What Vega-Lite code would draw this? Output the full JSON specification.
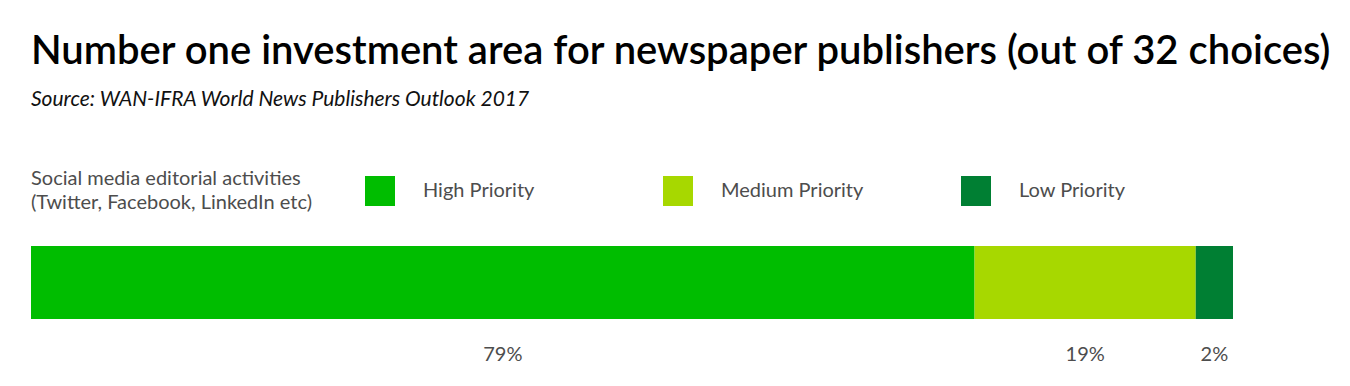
{
  "$schema": "https://vega.github.io/schema/vega-lite/v6.json",
  "autosize": {"type": "none"},
  "width": 1202,
  "height": 73,
  "padding": {"left": 31, "top": 246, "right": 117, "bottom": 67},
  "background": "white",
  "config": {"view": {"stroke": null}, "font": "Lato"},
  "title": {
    "text": "Number one investment area for newspaper publishers (out of 32 choices)",
    "subtitle": "Source: WAN-IFRA World News Publishers Outlook 2017",
    "anchor": "start",
    "frame": "group",
    "font": "Lato",
    "fontSize": 40,
    "fontWeight": 600,
    "color": "#000000",
    "subtitleFont": "Lato",
    "subtitleFontSize": 21,
    "subtitleFontStyle": "italic",
    "subtitleColor": "#111111",
    "subtitlePadding": 17,
    "offset": 66
  },
  "data": {
    "values": [
      {"priority": "High Priority", "share": 78.5, "label": "79%", "rank": 1},
      {"priority": "Medium Priority", "share": 18.4, "label": "19%", "rank": 2},
      {"priority": "Low Priority", "share": 3.1, "label": "2%", "rank": 3}
    ]
  },
  "layer": [
    {
      "mark": {"type": "bar", "height": 73},
      "encoding": {
        "x": {"field": "share", "type": "quantitative", "stack": "zero", "scale": {"domain": [0, 100], "nice": false}, "axis": null},
        "order": {"field": "rank", "type": "quantitative"},
        "color": {
          "field": "priority",
          "type": "nominal",
          "sort": ["High Priority", "Medium Priority", "Low Priority"],
          "scale": {"domain": ["High Priority", "Medium Priority", "Low Priority"], "range": ["#00bd00", "#a7d800", "#007f33"]},
          "legend": {
            "title": ["Social media editorial activities", "(Twitter, Facebook, LinkedIn etc)"],
            "orient": "none",
            "legendX": 0,
            "legendY": -70,
            "direction": "horizontal",
            "columns": 3,
            "gridAlign": "all",
            "titleOrient": "left",
            "titleFont": "Lato",
            "titleFontSize": 20,
            "titleFontWeight": "normal",
            "titleColor": "#4d4d4d",
            "titleLimit": 400,
            "titleLineHeight": 24,
            "titlePadding": 53,
            "symbolType": "square",
            "symbolSize": 900,
            "symbolStrokeWidth": 0,
            "symbolOpacity": 1,
            "labelFont": "Lato",
            "labelFontSize": 20,
            "labelColor": "#4d4d4d",
            "labelOffset": 28,
            "labelLimit": 300,
            "columnPadding": 97
          }
        }
      }
    },
    {
      "mark": {"type": "text", "baseline": "middle", "align": "center", "dy": 72, "fontSize": 20, "font": "Lato", "color": "#4d4d4d"},
      "encoding": {
        "x": {"field": "share", "type": "quantitative", "stack": "zero", "bandPosition": 0.5},
        "order": {"field": "rank", "type": "quantitative"},
        "detail": {"field": "priority", "type": "nominal"},
        "text": {"field": "label", "type": "nominal"}
      }
    }
  ]
}
